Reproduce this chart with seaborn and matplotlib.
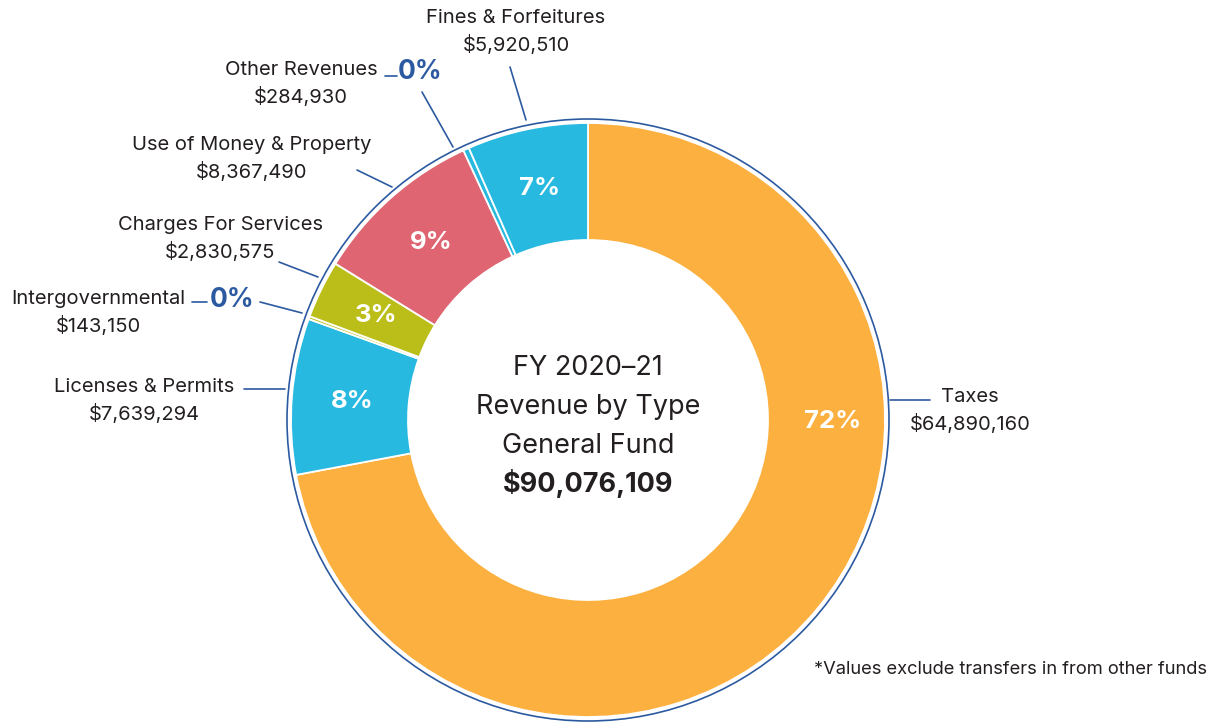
import numpy as np
import matplotlib
matplotlib.use("Agg")
import matplotlib.pyplot as plt
from matplotlib.patches import Circle
import seaborn as sns

# Dados (sentido horário a partir do topo)
categorias = ["Taxes", "Licenses & Permits", "Intergovernmental", "Charges For Services",
              "Use of Money & Property", "Other Revenues", "Fines & Forfeitures"]
valores = [64890160, 7639294, 143150, 2830575, 8367490, 284930, 5920510]
rotulos_pct = ["72%", "8%", "0%", "3%", "9%", "0%", "7%"]
cores = ["#FBB040", "#27B9DF", "#BBBE19", "#BBBE19", "#DE6571", "#27B9DF", "#27B9DF"]

titulo = ["FY 2020\u201321", "Revenue by Type", "General Fund"]
total_txt = "$90,076,109"
nota = "*Values exclude transfers in from other funds"

AZUL = "#2C5AA0"
TEXTO = "#231F20"

sns.set_theme(style="white")
plt.rcParams["font.family"] = ["Inter", "DejaVu Sans"]

W, H = 1218, 723
fig = plt.figure(figsize=(W / 100, H / 100), dpi=100)
ax = fig.add_axes([0, 0, 1, 1])

cx, cy = 588, H - 420
R, larg = 297, 117

wedges, _ = ax.pie(valores, colors=cores, startangle=90, counterclock=False,
                   center=(cx, cy), radius=R,
                   wedgeprops=dict(width=larg, edgecolor="white", linewidth=1.3))
ax.add_patch(Circle((cx, cy), R + 4, fill=False, edgecolor=AZUL, linewidth=1.2))

ax.set_xlim(0, W)
ax.set_ylim(0, H)
ax.set_aspect("equal")
ax.axis("off")

def py(y):
    return H - y

# rótulos de porcentagem dentro das fatias
total = sum(valores)
acum = 0
for i, v in enumerate(valores):
    frac = v / total
    meio = acum + frac / 2
    acum += frac
    if rotulos_pct[i] == "0%":
        continue
    ang = np.deg2rad(90 - meio * 360)
    r = R - larg / 2 - 2
    x, y = cx + r * np.cos(ang), cy + r * np.sin(ang)
    if i == 0:
        x, y = cx + 245, cy - 2  # 72% fica à direita
    ax.text(x, y, rotulos_pct[i], color="white", fontsize=18.5, fontweight="bold",
            ha="center", va="center")

# rótulos externos: (texto centro x, y linha1), linha de ligação
externos = [
    (970, 397, [(890, 400), (930, 400)]),
    (144, 387, [(244, 389), (285, 389)]),
    (98, 299, [(260, 302), (302, 313)]),
    (220, 225, [(279, 262), (318, 277)]),
    (252, 145, [(357, 170), (392, 187)]),
    (301, 70, [(422, 92), (453, 147)]),
    (516, 18, [(510, 67), (526, 120)]),
]
for i, (tx, ty, linha) in enumerate(externos):
    ax.text(tx, py(ty), categorias[i], color=TEXTO, fontsize=14.5, ha="center", va="center")
    ax.text(tx, py(ty + 27), "${:,}".format(valores[i]), color=TEXTO, fontsize=14.5,
            ha="center", va="center")
    (x1, y1), (x2, y2) = linha
    ax.plot([x1, x2], [py(y1), py(y2)], color=AZUL, lw=1.2)

# os "0%" azuis
ax.text(232, py(300), "0%", color=AZUL, fontsize=19, fontweight="bold", ha="center", va="center")
ax.plot([192, 207], [py(302), py(302)], color=AZUL, lw=1.2)
ax.text(420, py(72), "0%", color=AZUL, fontsize=19, fontweight="bold", ha="center", va="center")
ax.plot([385, 397], [py(76), py(76)], color=AZUL, lw=1.2)

# texto central
for k, linha in enumerate(titulo):
    ax.text(cx, py(368 + 39 * k), linha, color=TEXTO, fontsize=19.5, ha="center", va="center")
ax.text(cx, py(484), total_txt, color=TEXTO, fontsize=19.5, fontweight="bold",
        ha="center", va="center")

ax.text(1207, py(669), nota, color=TEXTO, fontsize=13.2, ha="right", va="center")

fig.savefig("out.png", dpi=100, facecolor="white")
